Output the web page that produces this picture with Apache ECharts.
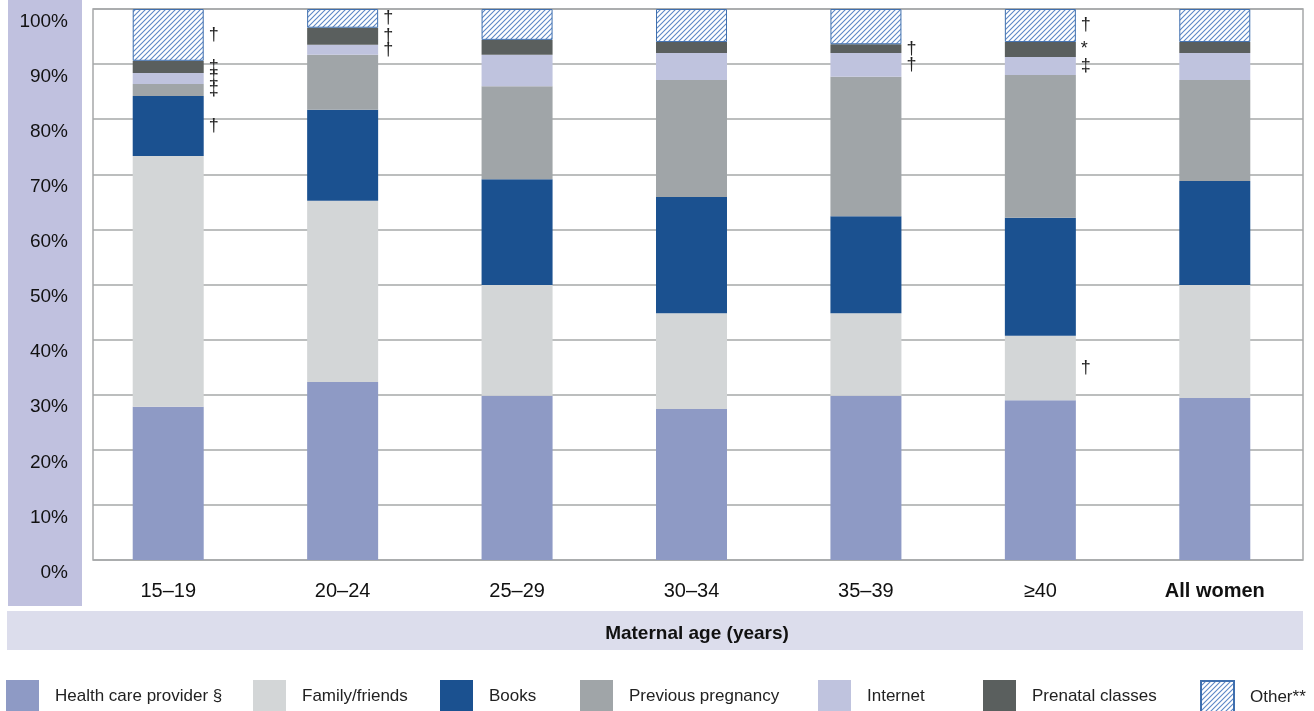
<!DOCTYPE html>
<html>
<head>
<meta charset="utf-8">
<script src="https://cdn.jsdelivr.net/npm/echarts@6/dist/echarts.min.js"></script>
<style>
  html, body { margin: 0; padding: 0; background: #fff; }
  #chart { width: 1314px; height: 711px; }
</style>
</head>
<body>
<div id="chart"></div>
<script>
var FONT = "'Liberation Sans', Arial, sans-serif";

// categories (maternal age groups)
var ageGroups = ['15\u201319', '20\u201324', '25\u201329', '30\u201334', '35\u201339', '\u226540', 'All women'];

// percent of women by source of information
var healthCare   = [27.8, 32.3, 29.8, 27.4, 29.8, 29.0, 29.4];
var family       = [45.5, 32.9, 20.1, 17.4, 15.0, 11.7, 20.5];
var books        = [10.9, 16.5, 19.2, 21.1, 17.6, 21.4, 18.9];
var prevPreg     = [2.2, 10.0, 16.9, 21.2, 25.3, 25.9, 18.3];
var internet     = [2.0, 1.8, 5.7, 4.9, 4.3, 3.3, 4.9];
var prenatal     = [2.2, 3.1, 2.7, 2.0, 1.6, 2.7, 2.0];
var other        = [9.4, 3.4, 5.6, 6.0, 6.4, 6.0, 6.0];

// footnote marks next to segments
var notesHealth   = ['', '', '', '', '', '', ''];
var notesFamily   = ['', '', '', '', '', '\u2020', ''];
var notesBooks    = ['\u2020', '', '', '', '', '', ''];
var notesPrev     = ['\u2021', '', '', '', '', '', ''];
var notesInternet = ['\u2021', '\u2020', '', '', '\u2020', '\u2021', ''];
var notesPrenatal = ['\u2021', '\u2020', '', '', '\u2020', '*', ''];
var notesOther    = ['\u2020', '\u2020', '', '', '', '\u2020', ''];

var yTicks = [0, 10, 20, 30, 40, 50, 60, 70, 80, 90, 100];

// hatch pattern for "Other"
var hatch = document.createElement('canvas');
hatch.width = 5; hatch.height = 5;
var hc = hatch.getContext('2d');
hc.fillStyle = '#ffffff';
hc.fillRect(0, 0, 5, 5);
hc.strokeStyle = '#5d88c6';
hc.lineWidth = 1.1;
hc.beginPath();
hc.moveTo(-1, 6); hc.lineTo(6, -1);
hc.moveTo(-1, 1); hc.lineTo(1, -1);
hc.moveTo(4, 6); hc.lineTo(6, 4);
hc.stroke();

var myChart = echarts.init(document.getElementById('chart'));

function makeSeries(name, data, notes, color, border) {
    var s = {
        name: name,
        type: 'bar',
        stack: 'total',
        xAxisIndex: 1,
        yAxisIndex: 1,
        barWidth: 71,
        data: data,
        itemStyle: { color: color },
        label: {
            show: true,
            position: 'right',
            distance: 5,
            color: '#222',
            fontSize: 18,
            fontFamily: FONT,
            formatter: function(p) {
                return notes[p.dataIndex];
            }
        },
        emphasis: { disabled: true }
    };
    if (border) {
        s.itemStyle.borderColor = border;
        s.itemStyle.borderWidth = 1;
    }
    return s;
}

var seriesNames = ['Health care provider \u00a7', 'Family/friends', 'Books', 'Previous pregnancy', 'Internet', 'Prenatal classes', 'Other**'];
var legendLeft = [6, 253, 440, 580, 818, 983, 1200];

var legends = seriesNames.map(function(n, i) {
    return {
        data: [{ name: n, icon: 'rect' }],
        left: legendLeft[i],
        top: 680,
        padding: 0,
        itemWidth: 33,
        itemHeight: 32,
        selectedMode: false,
        textStyle: { fontFamily: FONT, fontSize: 17, color: '#222', padding: [0, 0, 0, 11] }
    };
});

var gridColor = '#a6a8a9';

myChart.setOption({
    animation: false,
    textStyle: { fontFamily: FONT },
    graphic: [
        { type: 'rect', left: 8, top: 0, shape: { width: 74, height: 606 }, style: { fill: '#c0c1df' }, z: -10 },
        { type: 'rect', left: 7, top: 611, shape: { width: 1296, height: 39 }, style: { fill: '#dcddec' }, z: -10 }
    ],
    legend: legends,
    grid: [
        // frame + gridlines
        { left: 93, right: 11, top: 9, bottom: 151, show: true, borderColor: gridColor, borderWidth: 1.5 },
        // bars
        { left: 81, right: 12, top: 9, bottom: 151 }
    ],
    xAxis: [{
        gridIndex: 0,
        type: 'value',
        show: false
    }, {
        gridIndex: 1,
        type: 'category',
        data: ageGroups,
        axisTick: { show: false },
        axisLine: { show: false },
        axisLabel: {
            margin: 21,
            fontSize: 20,
            color: '#111',
            fontFamily: FONT,
            formatter: function(v) {
                return v === 'All women' ? '{b|' + v + '}' : v;
            },
            rich: { b: { fontWeight: 'bold', fontSize: 20, fontFamily: FONT, color: '#111' } }
        },
        name: 'Maternal age (years)',
        nameLocation: 'middle',
        nameGap: 64,
        nameTextStyle: { fontWeight: 'bold', fontSize: 19, color: '#111', fontFamily: FONT, padding: [0, 0, 0, 11] }
    }],
    yAxis: [{
        gridIndex: 0,
        type: 'value',
        min: yTicks[0],
        max: yTicks[yTicks.length - 1],
        interval: 10,
        axisLine: { show: false },
        axisTick: { show: false },
        splitLine: { lineStyle: { color: gridColor, width: 1.5 } },
        axisLabel: {
            margin: 25,
            fontSize: 19,
            color: '#111',
            fontFamily: FONT,
            verticalAlign: 'top',
            padding: [3, 0, 0, 0],
            formatter: '{value}%'
        }
    }, {
        gridIndex: 1,
        type: 'value',
        min: yTicks[0],
        max: yTicks[yTicks.length - 1],
        interval: 10,
        show: false
    }],
    series: [
        makeSeries(seriesNames[0], healthCare, notesHealth, '#8e9ac5'),
        makeSeries(seriesNames[1], family, notesFamily, '#d3d6d7'),
        makeSeries(seriesNames[2], books, notesBooks, '#1b5190'),
        makeSeries(seriesNames[3], prevPreg, notesPrev, '#a0a5a8'),
        makeSeries(seriesNames[4], internet, notesInternet, '#bfc3de'),
        makeSeries(seriesNames[5], prenatal, notesPrenatal, '#5a5f5e'),
        makeSeries(seriesNames[6], other, notesOther, { image: hatch, repeat: 'repeat' }, '#3f6fae')
    ]
});
</script>
</body>
</html>
